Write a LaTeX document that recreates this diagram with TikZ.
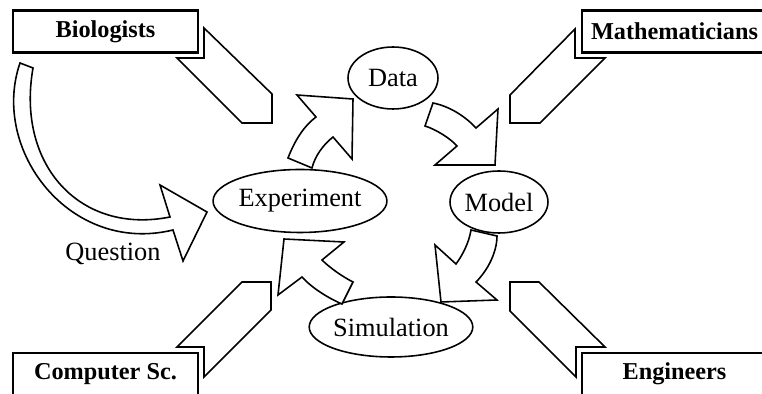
\documentclass[tikz,border=0pt]{standalone}
\usepackage{fontspec}
\setmainfont{Liberation Serif}
\usetikzlibrary{shapes.geometric}

\begin{document}
\begin{tikzpicture}[x=0.02cm, y=-0.02cm,
    fase/.style={ellipse, draw, line width=0.9pt, inner sep=0pt, font=\fontsize{15}{18}\selectfont},
    gruppo/.style={rectangle, draw, fill=white, line width=1.2pt, minimum width=37mm, minimum height=8.4mm, inner sep=0pt, font=\bfseries\fontsize{13.8}{16}\selectfont},
    freccia/.style={draw, line width=0.9pt, fill=white, line join=miter}]
    \useasboundingbox (0,0) rectangle (762,394);
    \clip (0,0) rectangle (762,394);
    %frecce dai gruppi
    \draw[freccia](204,28)--(272,94)--(272,123)--(242,123)--(177,58)--(204,58)--cycle;
    \draw[freccia](575,29)--(510,95)--(510,123)--(540,123)--(605,58)--(575,58)--cycle;
    \draw[freccia](204,377)--(271,310)--(271,282)--(242,282)--(177,347)--(204,347)--cycle;
    \draw[freccia](576,377)--(510,311)--(510,282)--(539,282)--(605,347)--(576,347)--cycle;
    %riquadri
    \node[gruppo] (bio) at (105.5,31.5) {Biologists};
    \node[gruppo] (mat) at (674.5,31.5) {Mathematicians};
    \node[gruppo] (inf) at (105.5,374) {Computer Sc.};
    \node[gruppo] (ing) at (674.5,374) {Engineers};
    %ciclo
    \node[fase, minimum width=18mm, minimum height=12.4mm] (dati) at (393,78) {Data};
    \node[fase, minimum width=33.2mm, minimum height=12.6mm] (esp) at (300,201) {Experiment};
    \node[fase, minimum width=19.6mm, minimum height=12.4mm] (mod) at (499,202) {Model};
    \node[fase, minimum width=28.8mm, minimum height=12mm] (sim) at (391,327) {Simulation};
    %frecce curve
    \draw[freccia](288,158) .. controls (295,140) and (304,126) .. (316,117)--(297,95)--(353,99)--(352,159)--(333,137) .. controls (323,145) and (315,156) .. (312,168)--cycle;
    \draw[freccia](433,103) .. controls (448,106) and (464,115) .. (476,128)--(498,109)--(495,165)--(435,165)--(457,146) .. controls (450,138) and (435,129) .. (425,126)--cycle;
    \draw[freccia](497,236) .. controls (497,252) and (488,270) .. (476,282)--(497,300)--(441,302)--(435,245)--(456,264) .. controls (462,256) and (469,243) .. (471,230)--cycle;
    \draw[freccia](353,282) .. controls (343,277) and (330,268) .. (322,260)--(344,242)--(284,239)--(278,295)--(302,277) .. controls (312,288) and (328,298) .. (342,304)--cycle;
    %domanda
    \draw[freccia](20,63) .. controls (-10,150) and (70,255) .. (173,230)--(183,261)--(207,212)--(160,185)--(170,217) .. controls (80,235) and (16,165) .. (33,68)--cycle;
    \node[font=\fontsize{15}{18}\selectfont] (dom) at (113,254) {Question};
\end{tikzpicture}
\end{document}
